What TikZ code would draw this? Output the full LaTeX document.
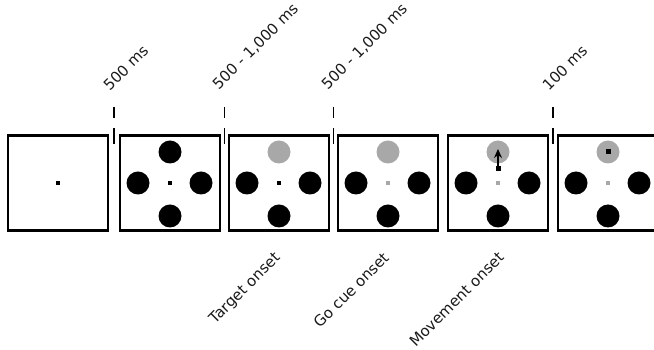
\documentclass[tikz,border=0pt]{standalone}
\usepackage{fontspec}
\setmainfont{DejaVu Sans}
\usetikzlibrary{arrows.meta}
\definecolor{targetgray}{HTML}{A8A8A8}
\definecolor{labelblack}{HTML}{1A1A1A}

\begin{document}
\begin{tikzpicture}[x=1pt,y=1pt,
    panel/.style={draw,line width=2.4pt,minimum width=100pt,minimum height=95pt,inner sep=0pt},
    disc/.style={circle,fill=black,minimum size=23pt,inner sep=0pt},
    target/.style={disc,fill=targetgray},
    fixdot/.style={fill=black,minimum size=4pt,inner sep=0pt},
    gofix/.style={fixdot,fill=targetgray},
    tickmark/.style={line width=1.4pt,dash pattern=on 11pt off 10pt on 17pt off 10pt},
    timelabel/.style={rotate=45,anchor=south west,inner sep=0pt,text=labelblack,font=\fontsize{15}{18}\selectfont},
    eventlabel/.style={rotate=45,anchor=north east,inner sep=0pt,text=labelblack,font=\fontsize{15}{18}\selectfont}]
  \useasboundingbox (0,0) rectangle (654,350);

  % screens
  \foreach \i/\x in {1/58,2/170,3/279,4/388,5/498,6/608}
    \node[panel] (p\i) at (\x,167) {};

  % fixation point
  \node[fixdot] (fix1) at (p1) {};
  \node[fixdot] (fix2) at (p2) {};
  \node[fixdot] (fix3) at (p3) {};
  \node[gofix] (fix4) at (p4) {};
  \node[gofix] (fix5) at (p5) {};
  \node[gofix] (fix6) at (p6) {};

  % four targets, top one lit from target onset on
  \foreach \i/\s in {2/disc,3/target,4/target,5/target,6/target} {
    \node[\s] (t\i) at ([yshift=31pt]p\i.center) {};
    \node[disc] (l\i) at ([xshift=-32pt]p\i.center) {};
    \node[disc] (r\i) at ([xshift=31pt]p\i.center) {};
    \node[disc] (b\i) at ([yshift=-33pt]p\i.center) {};
  }

  % cursor
  \node[fixdot,minimum size=5pt] (cur5) at ([yshift=14pt]p5.center) {};
  \coordinate (aim5) at ([yshift=3pt]t5.center);
  \draw[-{Stealth[length=9pt,width=8pt]},line width=1.2pt] (cur5) -- (aim5);
  \node[fixdot,minimum size=5pt] (cur6) at (t6) {};

  % time marks
  \foreach \x in {114,224.5,333.5,553}
    \draw[tickmark] (\x,243) -- (\x,206);

  \node[timelabel] (d1) at (110,258) {500 ms};
  \node[timelabel] (d2) at (220,258) {500 - 1,000 ms};
  \node[timelabel] (d3) at (329,258) {500 - 1,000 ms};
  \node[timelabel] (d4) at (549,258) {100 ms};

  \node[eventlabel] (e3) at ([xshift=-6pt,yshift=-19pt]p3.south) {Target onset};
  \node[eventlabel] (e4) at ([xshift=-6pt,yshift=-19pt]p4.south) {Go cue onset};
  \node[eventlabel] (e5) at ([xshift=-1pt,yshift=-19pt]p5.south) {Movement onset};
\end{tikzpicture}
\end{document}
